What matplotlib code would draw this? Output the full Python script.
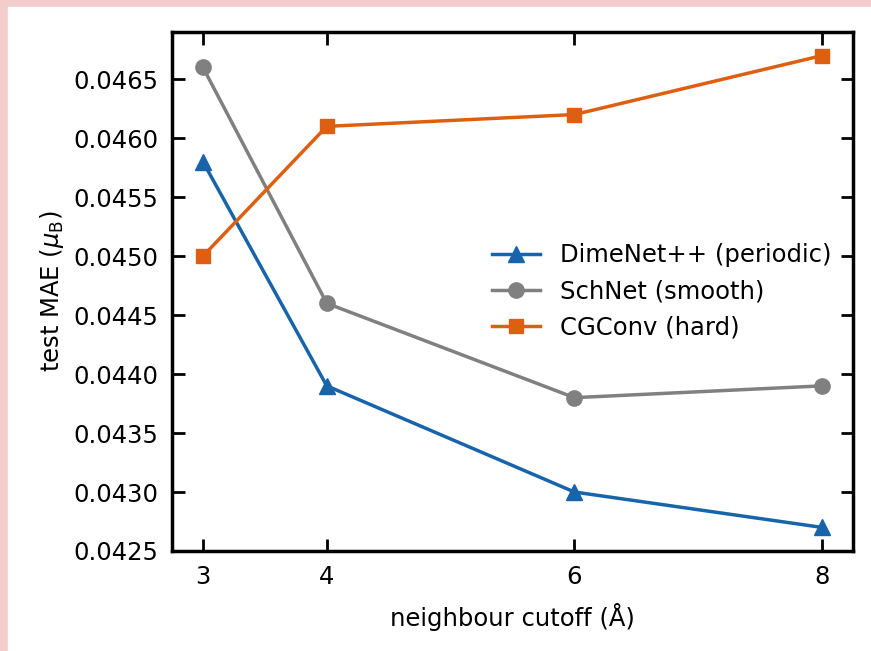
import matplotlib.pyplot as plt
from matplotlib.patches import Rectangle

cutoff = [3, 4, 6, 8]
dimenet = [0.0458, 0.0439, 0.0430, 0.0427]
schnet = [0.0466, 0.0446, 0.0438, 0.0439]
cgconv = [0.0450, 0.0461, 0.0462, 0.0467]

fig = plt.figure(figsize=(8.71, 6.51), dpi=100, facecolor='#f4cccc')
# white page area (image is cropped from a page with pink border)
fig.patches.append(Rectangle((8 / 871, 0), 1, (651 - 7) / 651,
                             transform=fig.transFigure, color='white', zorder=-10))
ax = fig.add_axes([172 / 871, 100 / 651, 681 / 871, 519 / 651])

ax.plot(cutoff, dimenet, '-^', color='#1764ab', lw=2.5, ms=12, label='DimeNet++ (periodic)')
ax.plot(cutoff, schnet, '-o', color='#808080', lw=2.5, ms=11, label='SchNet (smooth)')
ax.plot(cutoff, cgconv, '-s', color='#dd5f12', lw=2.5, ms=10, label='CGConv (hard)')

ax.set_xlim(2.75, 8.25)
ax.set_ylim(0.0425, 0.0469)
ax.set_xticks(cutoff)
ax.set_yticks([0.0425, 0.0430, 0.0435, 0.0440, 0.0445, 0.0450, 0.0455, 0.0460, 0.0465])
ax.set_yticklabels([f'{v:.4f}' for v in ax.get_yticks()])
ax.tick_params(direction='in', top=True, right=True, length=9, width=2, labelsize=17.5, pad=10)
for s in ax.spines.values():
    s.set_linewidth(2.5)

ax.set_xlabel('neighbour cutoff (Å)', fontsize=17.5, labelpad=10)
ax.set_ylabel(r'test MAE ($\mu_\mathrm{B}$)', fontsize=17.5, labelpad=5)
ax.legend(loc='center right', frameon=False, fontsize=17.5, handlelength=2.0)

fig.savefig('out.png', dpi=100, facecolor=fig.get_facecolor())
